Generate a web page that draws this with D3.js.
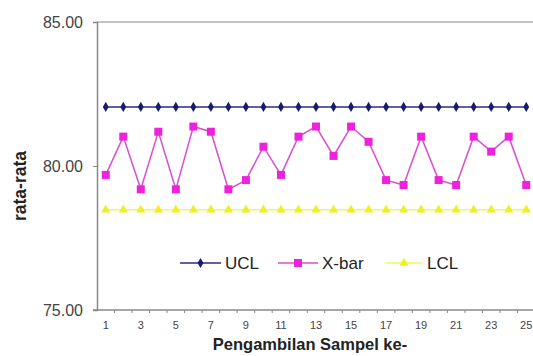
<!DOCTYPE html>
<html>
<head>
<meta charset="utf-8">
<script src="https://cdn.jsdelivr.net/npm/d3@7"></script>
<style>
  body { margin: 0; background: #fff; }
  svg { font-family: "Liberation Sans", Arial, sans-serif; }
</style>
</head>
<body>
<figure id="chart" style="margin:0"></figure>
<script>
// sample numbers 1..25
const samples = d3.range(1, 26);
const xbar = [79.69, 81.02, 79.19, 81.19, 79.19, 81.37, 81.19, 79.19, 79.51, 80.67,
              79.69, 81.02, 81.37, 80.35, 81.37, 80.84, 79.51, 79.34, 81.02, 79.51,
              79.34, 81.02, 80.50, 81.02, 79.34];
const ucl = samples.map(() => 82.05);
const lcl = samples.map(() => 78.48);
const yTicks = [75, 80, 85];
const xLabels = samples.filter(d => d % 2 === 1);

const w = 533, h = 356;
const margin = {left: 97, right: -2, top: 22, bottom: 46};

const svg = d3.select("figure#chart").append("svg")
  .attr("width", w).attr("height", h);

const x = d3.scaleBand()
  .domain(samples)
  .range([margin.left, w - margin.right]);
const y = d3.scaleLinear()
  .domain([75, 85])
  .range([h - margin.bottom, margin.top]);

// frame: top line and left axis
svg.append("line")
  .attr("x1", margin.left).attr("x2", w)
  .attr("y1", y(85)).attr("y2", y(85))
  .attr("stroke", "#888").attr("stroke-width", 1.2);

const yAxis = svg.append("g")
  .attr("transform", "translate(" + margin.left + ",0)")
  .call(d3.axisLeft(y).tickValues(yTicks).tickSize(4).tickFormat(d3.format(".2f")));
yAxis.select(".domain").attr("stroke", "#888").attr("stroke-width", 1.5);
yAxis.selectAll(".tick line").attr("stroke", "#888");
yAxis.selectAll("text").attr("font-size", 16).attr("fill", "#444").attr("dx", "-7");

// x axis: ticks at category boundaries, labels at centres
const xAxisG = svg.append("g")
  .attr("transform", "translate(0," + y(75) + ")");
xAxisG.append("line")
  .attr("x1", margin.left - 4).attr("x2", w)
  .attr("stroke", "#888").attr("stroke-width", 1.5);
xAxisG.selectAll(".bt")
  .data(samples)
  .enter().append("line")
  .attr("x1", d => x(d) + x.bandwidth())
  .attr("x2", d => x(d) + x.bandwidth())
  .attr("y1", 0).attr("y2", 3)
  .attr("stroke", "#888");
xAxisG.selectAll("text")
  .data(xLabels)
  .enter().append("text")
  .attr("x", d => x(d) + x.bandwidth() / 2)
  .attr("y", 19)
  .attr("text-anchor", "middle")
  .attr("font-size", 11)
  .attr("fill", "#444")
  .text(d => d);

// axis titles
svg.append("text")
  .attr("x", 310).attr("y", 350)
  .attr("text-anchor", "middle")
  .attr("font-size", 16.5).attr("font-weight", "bold").attr("fill", "#222")
  .text("Pengambilan  Sampel  ke-");
svg.append("text")
  .attr("transform", "translate(26,186) rotate(-90)")
  .attr("text-anchor", "middle")
  .attr("font-size", 17.5).attr("font-weight", "bold").attr("fill", "#222")
  .text("rata-rata");

const cx = d => x(d) + x.bandwidth() / 2;
const line = d3.line().x((d, i) => cx(samples[i])).y(d => y(d));

const series = [
  {name: "UCL", values: ucl, color: "#1a1a6e", marker: "diamond", line: "#2b2b8a"},
  {name: "X-bar", values: xbar, color: "#ee22dd", marker: "square", line: "#d94fd0"},
  {name: "LCL", values: lcl, color: "#f0f020", marker: "triangle", line: "#f4f460"}
];

function drawMarker(g, type, color, px, py) {
  if (type === "diamond") {
    g.append("path").attr("d", d3.symbol(d3.symbolDiamond, 30)())
      .attr("transform", "translate(" + px + "," + py + ")").attr("fill", color);
  } else if (type === "square") {
    g.append("rect").attr("x", px - 4).attr("y", py - 4)
      .attr("width", 8).attr("height", 8).attr("fill", color);
  } else {
    g.append("path").attr("d", d3.symbol(d3.symbolTriangle, 36)())
      .attr("transform", "translate(" + px + "," + py + ")").attr("fill", color);
  }
}

series.forEach(s => {
  const g = svg.append("g");
  g.append("path").attr("d", line(s.values))
    .attr("fill", "none").attr("stroke", s.line).attr("stroke-width", 1.5);
  s.values.forEach((v, i) => drawMarker(g, s.marker, s.color, cx(samples[i]), y(v)));
});

// legend
const legendPos = [{x1: 180, x2: 221, tx: 225}, {x1: 278, x2: 318, tx: 322}, {x1: 386, x2: 422, tx: 427}];
series.forEach((s, i) => {
  const p = legendPos[i];
  const g = svg.append("g");
  g.append("line").attr("x1", p.x1).attr("x2", p.x2).attr("y1", 263).attr("y2", 263)
    .attr("stroke", s.line).attr("stroke-width", 1.5);
  drawMarker(g, s.marker, s.color, (p.x1 + p.x2) / 2, 263);
  g.append("text").attr("x", p.tx).attr("y", 269)
    .attr("font-size", 17).attr("fill", "#222").text(s.name);
});
</script>
</body>
</html>
